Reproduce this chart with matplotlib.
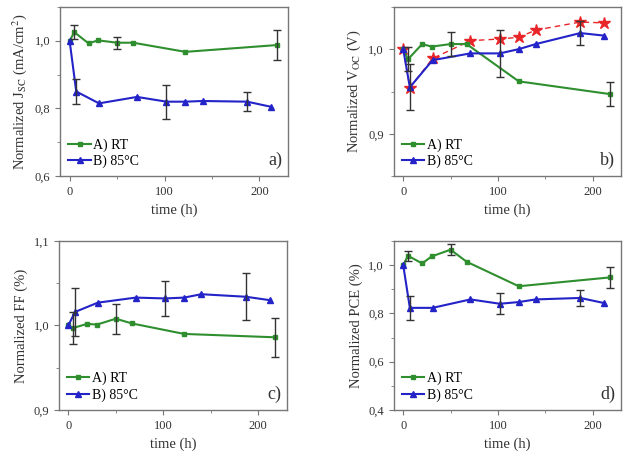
import matplotlib
matplotlib.use("Agg")
import matplotlib.pyplot as plt
from matplotlib.ticker import FuncFormatter, MultipleLocator, AutoMinorLocator

plt.rcParams['font.family'] = ['Liberation Serif', 'DejaVu Serif']
plt.rcParams['mathtext.fontset'] = 'stix'

# ageing times (h)
t_rt = [0, 5, 20, 30, 50, 67, 122, 218]
t_85 = [0, 7, 31, 71, 102, 122, 140, 187, 212]

# normalized Jsc
jsc_rt = [1.0, 1.025, 0.992, 1.001, 0.994, 0.994, 0.967, 0.987]
jsc_rt_err = [0, 0.02, 0, 0, 0.018, 0, 0, 0.044]
jsc_85 = [1.0, 0.850, 0.815, 0.834, 0.820, 0.820, 0.822, 0.820, 0.805]
jsc_85_err = [0, 0.036, 0, 0, 0.05, 0, 0, 0.028, 0]

# normalized Voc
voc_rt = [1.0, 0.988, 1.006, 1.003, 1.006, 1.006, 0.962, 0.947]
voc_rt_err = [0, 0.014, 0, 0, 0.014, 0, 0, 0.014]
voc_85 = [1.0, 0.955, 0.987, 0.995, 0.995, 1.0, 1.006, 1.019, 1.016]
voc_85_err = [0, 0.027, 0, 0, 0.028, 0, 0, 0.014, 0]
voc_ref = [1.0, 0.9545, 0.989, 1.010, 1.012, 1.014, 1.0225, 1.032, 1.031]

# normalized FF
ff_rt = [1.0, 0.997, 1.002, 1.001, 1.008, 1.0024, 0.990, 0.986]
ff_rt_err = [0, 0.019, 0, 0, 0.018, 0, 0, 0.023]
ff_85 = [1.0, 1.016, 1.027, 1.033, 1.032, 1.033, 1.037, 1.034, 1.030]
ff_85_err = [0, 0.028, 0, 0, 0.021, 0, 0, 0.028, 0]

# normalized PCE
pce_rt = [1.0, 1.039, 1.007, 1.036, 1.064, 1.014, 0.9125, 0.949]
pce_rt_err = [0, 0.02, 0, 0, 0.022, 0, 0, 0.043]
pce_85 = [1.0, 0.823, 0.823, 0.858, 0.840, 0.847, 0.858, 0.864, 0.843]
pce_85_err = [0, 0.05, 0, 0, 0.043, 0, 0, 0.032, 0]

GREEN = '#2f8f2f'
BLUE = '#2323c8'
RED = '#e8262a'
ERR = '#333333'
SPINE = '#777777'

comma = FuncFormatter(lambda v, p: ('%.1f' % v).replace('.', ','))


def draw_errors(ax, t, y, err):
    pts = [(a, b, e) for a, b, e in zip(t, y, err) if e > 0]
    ax.errorbar([p[0] for p in pts], [p[1] for p in pts], yerr=[p[2] for p in pts],
                fmt='none', ecolor=ERR, elinewidth=1.0, capsize=3, capthick=1.0, zorder=4)


def panel(rect, ylim, ystep, ylabel, tag, rt, rt_err, hot, hot_err):
    ax = fig.add_axes(rect)
    ax.plot(t_rt, rt, '-s', color=GREEN, lw=1.5, ms=3.5, label='A) RT', zorder=3)
    ax.plot(t_85, hot, '-^', color=BLUE, lw=1.5, ms=4, label='B) 85°C', zorder=3)
    draw_errors(ax, t_rt, rt, rt_err)
    draw_errors(ax, t_85, hot, hot_err)
    ax.set_xlim(-10, 230)
    ax.set_ylim(*ylim)
    ax.xaxis.set_major_locator(MultipleLocator(100))
    ax.xaxis.set_minor_locator(MultipleLocator(50))
    ax.yaxis.set_major_locator(MultipleLocator(ystep))
    ax.yaxis.set_minor_locator(AutoMinorLocator(2))
    ax.yaxis.set_major_formatter(comma)
    ax.tick_params(which='both', direction='out', top=False, right=False,
                   colors=SPINE, labelcolor='#333333', labelsize=9)
    ax.tick_params(which='major', length=3.5)
    ax.tick_params(which='minor', length=2)
    for s in ax.spines.values():
        s.set_color(SPINE)
        s.set_linewidth(1.0)
    ax.set_xlabel('time (h)', fontsize=10.5, color='#333333')
    ax.set_ylabel(ylabel, fontsize=10.5, color='#333333')
    ax.legend(loc='lower left', frameon=False, fontsize=10, handlelength=1.6,
              handletextpad=0.2, borderaxespad=0.2, labelspacing=0.2)
    ax.text(0.975, 0.04, tag, transform=ax.transAxes, ha='right', va='bottom',
            fontsize=13, color='#333333')
    return ax


fig = plt.figure(figsize=(6.26, 4.53), dpi=100)

panel([0.096, 0.611, 0.364, 0.374], (0.6, 1.1), 0.2,
      r'Normalized J$_{\mathrm{SC}}$ (mA/cm$^2$)', 'a)',
      jsc_rt, jsc_rt_err, jsc_85, jsc_85_err)

ax_b = panel([0.629, 0.611, 0.363, 0.374], (0.85, 1.05), 0.1,
             r'Normalized V$_{\mathrm{OC}}$ (V)', 'b)',
             voc_rt, voc_rt_err, voc_85, voc_85_err)
ax_b.plot(t_85, voc_ref, '--*', color=RED, lw=1.0, ms=9, dashes=(4, 3), zorder=2)

panel([0.094, 0.095, 0.364, 0.373], (0.9, 1.1), 0.1,
      'Normalized FF (%)', 'c)',
      ff_rt, ff_rt_err, ff_85, ff_85_err)

panel([0.629, 0.095, 0.363, 0.373], (0.4, 1.1), 0.2,
      'Normalized PCE (%)', 'd)',
      pce_rt, pce_rt_err, pce_85, pce_85_err)

fig.savefig('out.png', dpi=100)
